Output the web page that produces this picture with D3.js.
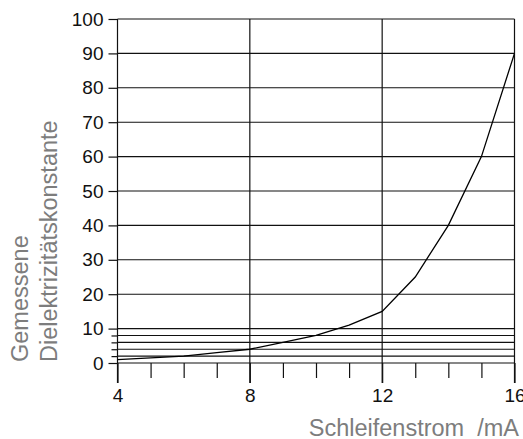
<!DOCTYPE html>
<html>
<head>
<meta charset="utf-8">
<script src="https://cdn.jsdelivr.net/npm/d3@7"></script>
<style>
  html, body { margin: 0; padding: 0; background: #fff; }
  svg { display: block; }
  text { font-family: "Liberation Sans", Arial, Helvetica, sans-serif; }
</style>
</head>
<body>
<svg id="chart" width="523" height="439"></svg>
<script>
// Loop current (mA) and measured dielectric constant
const current = [4, 5, 6, 7, 8, 9, 10, 11, 12, 13, 14, 15, 16];
const dielectric = [1, 1.5, 2, 3, 4, 6, 8, 11, 15, 25, 40, 60, 90];

const yMajorTicks = [0, 10, 20, 30, 40, 50, 60, 70, 80, 90, 100];
const yMinorTicks = [2, 4, 6, 8];
const yGridValues = [0, 2, 4, 6, 8, 10, 20, 30, 40, 50, 60, 70, 80, 90, 100];
const xMajorTicks = [4, 8, 12, 16];
const xMinorTicks = [5, 6, 7, 9, 10, 11, 13, 14, 15];
const xGridValues = [8, 12, 16];

const xTitle = "Schleifenstrom  /mA";
const yTitleLines = ["Gemessene", "Dielektrizitätskonstante"];

const svg = d3.select("#chart");
const x = d3.scaleLinear().domain([4, 16]).range([117.5, 514.5]);
const y = d3.scaleLinear().domain([0, 100]).range([363, 19]);
const bottom = 383;
const ink = "#111";
const grey = "#7d7d7d";

// horizontal grid lines
svg.append("g")
  .selectAll("line")
  .data(yGridValues)
  .join("line")
  .attr("x1", x(4)).attr("x2", x(16))
  .attr("y1", d => y(d)).attr("y2", d => y(d))
  .attr("stroke", ink).attr("stroke-width", 1.1);

// vertical grid lines and frame
svg.append("g")
  .selectAll("line")
  .data([4].concat(xGridValues))
  .join("line")
  .attr("x1", d => x(d)).attr("x2", d => x(d))
  .attr("y1", y(100)).attr("y2", bottom)
  .attr("stroke", ink).attr("stroke-width", 1.2);

// y axis: labelled major ticks and short minor ticks
const yMajor = svg.append("g")
  .attr("transform", `translate(${x(4)},0)`)
  .call(d3.axisLeft(y).tickValues(yMajorTicks).tickSize(9).tickPadding(5).tickFormat(d3.format("d")));
const yMinor = svg.append("g")
  .attr("transform", `translate(${x(4)},0)`)
  .call(d3.axisLeft(y).tickValues(yMinorTicks).tickSize(6).tickFormat(""));

// x axis: labelled major ticks and shorter minor ticks
const xMajor = svg.append("g")
  .attr("transform", `translate(0,${y(0)})`)
  .call(d3.axisBottom(x).tickValues(xMajorTicks).tickSize(20).tickPadding(6).tickFormat(d3.format("d")));
const xMinor = svg.append("g")
  .attr("transform", `translate(0,${y(0)})`)
  .call(d3.axisBottom(x).tickValues(xMinorTicks).tickSize(15).tickFormat(""));

[yMajor, yMinor, xMajor, xMinor].forEach(g => {
  g.select(".domain").remove();
  g.selectAll(".tick line").attr("stroke", ink).attr("stroke-width", 1.2);
  g.selectAll(".tick text")
    .attr("fill", "#111")
    .style("font-size", "19px")
    .style("font-family", "'Liberation Sans', Arial, sans-serif");
});

// measured curve
svg.append("path")
  .datum(current.map((c, i) => [c, dielectric[i]]))
  .attr("fill", "none")
  .attr("stroke", "#000")
  .attr("stroke-width", 1.3)
  .attr("d", d3.line().x(d => x(d[0])).y(d => y(d[1])));

// axis titles
svg.append("text")
  .attr("x", 519).attr("y", 436)
  .attr("text-anchor", "end")
  .attr("fill", grey)
  .style("font-size", "23.5px")
  .style("white-space", "pre")
  .text(xTitle);

const yTitle = svg.append("text")
  .attr("transform", "translate(0,362) rotate(-90)")
  .attr("text-anchor", "start")
  .attr("fill", grey)
  .style("font-size", "23.5px");
yTitle.selectAll("tspan")
  .data(yTitleLines)
  .join("tspan")
  .attr("x", 0)
  .attr("y", (d, i) => 28 + i * 29)
  .text(d => d);
</script>
</body>
</html>
